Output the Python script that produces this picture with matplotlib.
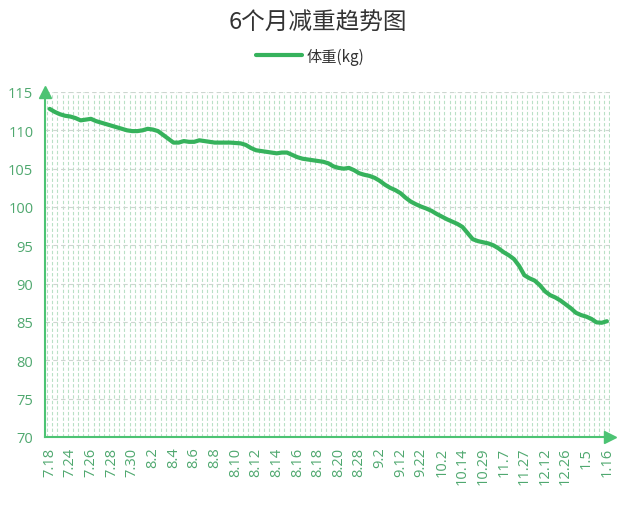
import matplotlib
matplotlib.use("Agg")
import matplotlib.pyplot as plt
import numpy as np

plt.rcParams['font.family'] = ['Noto Sans CJK SC', 'DejaVu Sans']

# tick labels shown on the x axis (every 4th measurement)
tick_labels = ['7.18', '7.24', '7.26', '7.28', '7.30', '8.2', '8.4', '8.6', '8.8',
               '8.10', '8.12', '8.14', '8.16', '8.18', '8.20', '8.28', '9.2', '9.12',
               '9.22', '10.2', '10.14', '10.29', '11.7', '11.27', '12.12', '12.26',
               '1.5', '1.16']
label_step = 4

# weight readings (kg), one per measurement
weight = [
    112.8, 112.4, 112.1, 111.9, 111.8, 111.6, 111.3, 111.4, 111.5, 111.2,
    111.0, 110.8, 110.6, 110.4, 110.2, 110.0, 109.9, 109.9, 110.0, 110.2,
    110.1, 109.9, 109.4, 108.9, 108.4, 108.4, 108.6, 108.5, 108.5, 108.7,
    108.6, 108.5, 108.4, 108.4, 108.4, 108.4, 108.35, 108.3, 108.1, 107.7,
    107.4, 107.3, 107.2, 107.1, 107.0, 107.1, 107.1, 106.8, 106.5, 106.3,
    106.2, 106.1, 106.0, 105.9, 105.7, 105.3, 105.1, 105.0, 105.1, 104.8,
    104.4, 104.2, 104.05, 103.8, 103.4, 102.9, 102.5, 102.2, 101.8, 101.2,
    100.7, 100.35, 100.05, 99.8, 99.5, 99.1, 98.75, 98.4, 98.1, 97.8,
    97.4, 96.6, 95.8, 95.55, 95.4, 95.25, 95.0, 94.6, 94.1, 93.7,
    93.2, 92.3, 91.1, 90.7, 90.4, 89.8, 89.0, 88.5, 88.2, 87.8,
    87.3, 86.8, 86.2, 85.9, 85.7, 85.4, 84.95, 84.9, 85.1,
]

line_color = '#36b25c'
axis_color = '#4cc373'
label_color = '#4fa86f'

fig = plt.figure(figsize=(6.29, 5.06), dpi=100)
ax = fig.add_axes([44.5 / 629, 1 - 438 / 506, 565 / 629, 345 / 506])

x = np.arange(len(weight))
ax.plot(x, weight, color=line_color, lw=3.0, solid_capstyle='round',
        solid_joinstyle='round', label='体重(kg)', zorder=3)

ax.set_xlim(-1.0, len(weight) - 0.5)
ax.set_ylim(70, 115)

# axes
for side in ['top', 'right']:
    ax.spines[side].set_visible(False)
for side in ['left', 'bottom']:
    ax.spines[side].set_color(axis_color)
    ax.spines[side].set_linewidth(1.5)
ax.plot([0], [1], marker='^', color=axis_color, markersize=8,
        transform=ax.transAxes, clip_on=False, zorder=4)
ax.plot([1], [0], marker='>', color=axis_color, markersize=8,
        transform=ax.transAxes, clip_on=False, zorder=4)

# ticks and labels
ax.set_yticks(np.arange(70, 116, 5))
ax.tick_params(axis='y', length=0, pad=8, labelsize=10.5, labelcolor=label_color)
ax.set_xticks(np.arange(0, len(weight), label_step))
ax.set_xticklabels(tick_labels, rotation=90, va='top', ha='center')
ax.tick_params(axis='x', length=0, pad=7, labelsize=10.5, labelcolor=label_color)
for lbl in ax.get_xticklabels() + ax.get_yticklabels():
    lbl.set_family(['Open Sans', 'DejaVu Sans'])

# grid
ax.set_xticks(np.arange(-0.5, len(weight), 1), minor=True)
ax.tick_params(axis='x', which='minor', length=0)
ax.grid(axis='x', which='minor', color='#b9e0c6', linestyle=(0, (3, 2)), lw=0.8)
ax.grid(axis='y', which='major', color='#cdd6d0', linestyle=(0, (4, 3)), lw=0.8)
ax.set_axisbelow(True)

fig.text(0.506, 1 - 23 / 506, '6个月减重趋势图', ha='center', va='center',
         fontsize=17, color='#333333')
fig.legend(loc='center', bbox_to_anchor=(310 / 629, 1 - 57 / 506), frameon=False,
           handlelength=3.0, handletextpad=0.3, fontsize=11,
           labelcolor='#333333')

fig.savefig('out.png', dpi=100)
